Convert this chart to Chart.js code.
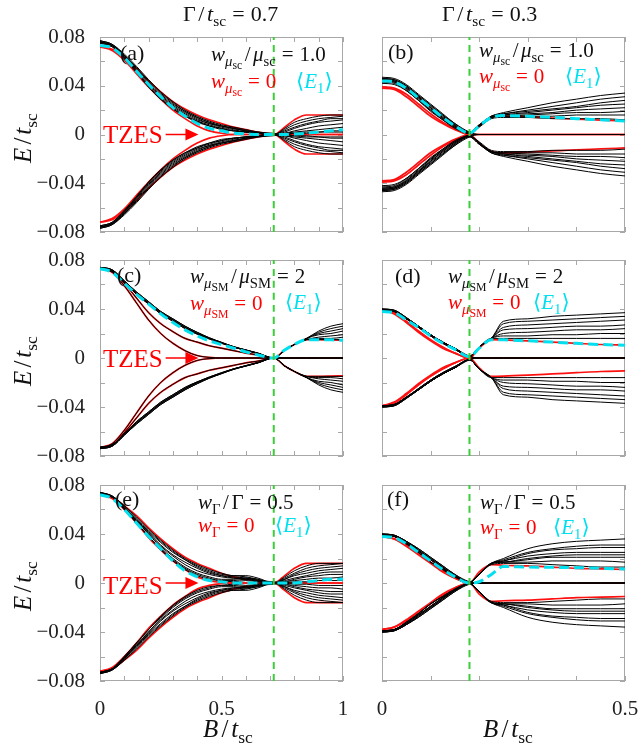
<!DOCTYPE html>
<html>
<head>
<meta charset="utf-8">
<script src="https://cdn.jsdelivr.net/npm/chart.js@4.4.1/dist/chart.umd.min.js"></script>
<style>
body { margin: 0; background: #fff; width: 639px; height: 743px; overflow: hidden; position: relative; font-family: 'Liberation Serif', 'Times New Roman', 'DejaVu Serif', serif; }
canvas { position: absolute; }
.t { position: absolute; white-space: nowrap; transform: translateY(-50%); font-size: 21px; line-height: 1; color: #111; }
.c { transform: translate(-50%, -50%); }
.rot { transform: translate(-50%, -50%) rotate(-90deg); }
sub { font-size: 0.7em; vertical-align: -0.35em; line-height: 0; }
sub sub { font-size: 0.8em; vertical-align: -0.3em; }
.eq { margin: 0 0.28em; }
.sl { margin: 0 0.12em; }
.red { color: #f00; }
.cy { color: #00e0ee; }
</style>
</head>
<body>
<script>
// B grid of each column
const xsLeft = [0, .05, .1, .15, .2, .25, .3, .35, .4, .45, .5, .55, .6, .65, .715, .76, .8, .85, .9, .95, 1];
const xsRight = [0, .025, .05, .075, .1, .125, .15, .18, .2, .225, .25, .3, .35, .4, .45, .5];

// critical field (green dashed)
const critLeft = 0.715;
const critRight = 0.18;

// (a) w_musc / musc = 1.0, Gamma = 0.7  (positive branch, mirrored below)
const blackA = [
  [.077, .074, .066, .056, .045, .035, .027, .020, .015, .011, .008, .006, .004, .002, 0, .005, .010, .013, .015, .016, .016],
  [.076, .073, .065, .054, .043, .033, .025, .019, .014, .010, .007, .005, .003, .0015, 0, .004, .008, .011, .013, .014, .015],
  [.076, .073, .064, .053, .042, .032, .024, .018, .013, .009, .007, .005, .003, .001, 0, .003, .006, .009, .011, .013, .013],
  [.075, .072, .063, .052, .041, .031, .023, .017, .012, .009, .006, .004, .002, .001, 0, .002, .005, .008, .010, .011, .012],
  [.076, .073, .064, .052, .040, .030, .022, .016, .011, .008, .005, .003, .002, .001, 0, .001, .003, .005, .007, .008, .009],
  [.075, .072, .062, .051, .039, .029, .021, .015, .010, .007, .004, .003, .002, .001, 0, .001, .002, .003, .004, .005, .006],
  [.076, .073, .063, .051, .039, .029, .021, .015, .011, .007, .005, .003, .002, .001, .0005, .0005, .001, .002, .002, .003, .003],
  [.077, .074, .065, .055, .044, .034, .026, .019, .014, .010, .007, .005, .003, .002, .001, 0, .001, .001, .002, .002, .002]
];
const redA = [
  [.072, .070, .063, .054, .044, .035, .027, .021, .016, .012, .009, .006, .004, .002, 0, .006, .012, .016, .016, .016, .016],
  [.072, .069, .061, .050, .039, .029, .020, .013, .007, .003, .001, 0, 0, 0, 0, 0, 0, 0, 0, 0, 0]
];
const cyanA = [.073, .071, .063, .052, .041, .031, .022, .015, .009, .005, .003, .001, .0005, 0, 0, 0, .0005, .001, .002, .003, .004];

// (c) w_muSM / muSM = 2, Gamma = 0.7
const blackC = [
  [.074, .072, .063, .054, .046, .038, .032, .026, .021, .0165, .0128, .0093, .0066, .004, 0, .0065, .011, .016, .022, .026, .028],
  [.073, .071, .062, .053, .045, .037, .031, .025, .020, .016, .0124, .009, .0064, .0038, 0, .0065, .011, .016, .021, .024, .026],
  [.073, .071, .062, .052, .044, .036, .030, .024, .0195, .0155, .012, .0088, .0062, .0036, 0, .0065, .011, .016, .020, .022, .024],
  [.074, .072, .063, .054, .046, .038, .032, .026, .021, .0165, .0128, .0093, .0066, .004, 0, .0065, .011, .016, .019, .020, .022],
  [.073, .071, .062, .053, .045, .037, .031, .025, .020, .016, .0124, .009, .0064, .0038, 0, .0065, .011, .015, .017, .018, .019],
  [.073, .071, .062, .052, .044, .036, .030, .024, .0195, .0155, .012, .0088, .0062, .0036, 0, .0065, .011, .015, .016, .016, .017],
  [.074, .072, .063, .053, .045, .037, .031, .025, .020, .016, .0125, .009, .0065, .0039, 0, .0065, .011, .015, .015, .015, .015],
  [.073, .071, .061, .049, .037, .028, .0215, .016, .013, .010, .008, .006, .004, .0025, 0, 0, 0, 0, 0, 0, 0],
  [.073, .070, .059, .045, .031, .020, .012, .006, .002, .0005, 0, 0, 0, 0, 0, 0, 0, 0, 0, 0, 0]
];
const redC = [
  [.073, .071, .061, .049, .037, .028, .0215, .016, .013, .010, .008, .006, .004, .0025, 0, .0065, .011, .015, .015, .0148, .0145],
  [.073, .070, .059, .045, .031, .020, .012, .006, .002, .0005, 0, 0, 0, 0, 0, 0, 0, 0, 0, 0, 0]
];
const cyanC = [.073, .070, .061, .052, .044, .036, .029, .023, .018, .014, .011, .008, .005, .0025, 0, .0065, .011, .015, .015, .0148, .0145];

// (e) w_Gamma / Gamma = 0.5, Gamma = 0.7
const blackE = [
  [.074, .071, .063, .054, .044, .035, .027, .020, .015, .011, .008, .006, .006, .004, 0, .005, .010, .014, .016, .016, .016],
  [.073, .070, .062, .052, .042, .033, .025, .019, .014, .010, .007, .006, .005, .003, 0, .004, .008, .012, .014, .015, .016],
  [.073, .070, .061, .051, .041, .031, .023, .017, .012, .008, .006, .005, .004, .002, 0, .003, .007, .010, .012, .013, .014],
  [.073, .070, .061, .050, .040, .030, .022, .015, .010, .007, .005, .004, .004, .003, 0, .003, .006, .008, .010, .011, .012],
  [.074, .071, .062, .051, .040, .029, .020, .013, .008, .005, .003, .003, .004, .002, 0, .002, .004, .006, .008, .009, .009],
  [.073, .070, .060, .049, .038, .028, .019, .012, .007, .004, .002, .002, .003, .001, 0, .001, .003, .005, .006, .007, .007],
  [.073, .070, .060, .049, .038, .027, .018, .011, .006, .003, .002, .001, .002, .001, 0, .001, .002, .003, .004, .004, .005],
  [.074, .071, .063, .053, .043, .034, .026, .019, .013, .009, .006, .004, .003, .002, .001, 0, .001, .001, .002, .002, .002]
];
const redE = [
  [.072, .070, .063, .055, .045, .036, .028, .021, .016, .012, .008, .005, .003, .002, 0, .006, .012, .016, .016, .016, .016],
  [.072, .069, .060, .049, .037, .027, .018, .011, .005, .002, .0005, 0, 0, 0, 0, 0, 0, 0, 0, 0, 0]
];
const cyanE = [.072, .069, .060, .049, .038, .028, .018, .010, .005, .002, .001, 0, 0, 0, 0, 0, 0, .001, .002, .003, .003];

// (b) w_musc / musc = 1.0, Gamma = 0.3
const blackB = [
  [.047, .046, .041, .033, .025, .017, .009, .002, .008, .015, .018, .022, .026, .029, .032, .034],
  [.046, .045, .040, .032, .024, .016, .008, .002, .008, .015, .017, .020, .023, .026, .029, .031],
  [.045, .044, .039, .031, .023, .015, .008, .001, .007, .015, .017, .019, .021, .023, .026, .028],
  [.045, .044, .038, .030, .022, .014, .007, .001, .007, .014, .016, .018, .020, .022, .024, .025],
  [.044, .043, .038, .030, .021, .013, .006, .001, .007, .014, .016, .017, .018, .020, .021, .022],
  [.044, .043, .037, .029, .020, .012, .006, .001, .007, .014, .015, .016, .017, .018, .018, .019],
  [.043, .042, .036, .028, .019, .012, .005, .001, .007, .014, .015, .015, .015, .016, .016, .016],
  [.042, .041, .036, .028, .020, .013, .006, .001, .006, .013, .014, .014, .013, .013, .013, .012],
  [.045, .044, .039, .031, .022, .014, .007, .001, 0, 0, 0, 0, 0, 0, 0, 0],
  [.046, .045, .040, .032, .024, .016, .009, .002, 0, 0, 0, 0, 0, 0, 0, 0]
];
const redB = [
  [.039, .038, .033, .025, .017, .010, .005, 0, .007, .014, .0152, .0145, .0135, .0125, .0118, .011],
  [.038, .037, .031, .023, .015, .009, .004, 0, 0, 0, 0, 0, 0, 0, 0, 0]
];
const cyanB = [.044, .043, .038, .030, .022, .014, .007, .001, .007, .014, .0155, .015, .014, .013, .012, .011];

// (d) w_muSM / muSM = 2, Gamma = 0.3
const blackD = [
  [.040, .039, .033, .026, .019, .013, .008, .0015, .009, .016, .030, .032, .034, .035, .036, .037],
  [.039, .038, .032, .026, .019, .013, .008, .0015, .009, .016, .028, .030, .031, .032, .033, .034],
  [.039, .038, .032, .025, .018, .012, .007, .0012, .009, .016, .025, .027, .028, .029, .030, .031],
  [.040, .039, .033, .026, .019, .013, .008, .0015, .009, .016, .023, .024, .025, .026, .026, .027],
  [.039, .038, .032, .026, .019, .013, .008, .0015, .009, .016, .020, .021, .022, .023, .023, .024],
  [.039, .038, .032, .025, .018, .012, .007, .0012, .009, .016, .018, .018, .019, .019, .020, .020],
  [.040, .039, .033, .026, .019, .013, .008, .0015, .009, .016, .016, .016, .016, .016, .016, .016],
  [.039, .038, .032, .026, .019, .013, .008, .0015, 0, 0, 0, 0, 0, 0, 0, 0],
  [.039, .038, .032, .025, .018, .012, .007, .0012, 0, 0, 0, 0, 0, 0, 0, 0]
];
const redD = [
  [.039, .037, .030, .022, .015, .009, .004, 0, .008, .015, .0148, .014, .013, .012, .011, .0105],
  [.039, .036, .029, .021, .014, .008, .004, 0, 0, 0, 0, 0, 0, 0, 0, 0]
];
const cyanD = [.038, .037, .031, .025, .018, .012, .007, .001, .008, .015, .0148, .014, .013, .012, .011, .0105];

// (f) w_Gamma / Gamma = 0.5, Gamma = 0.3
const blackF = [
  [.040, .039, .034, .027, .020, .013, .006, .0005, .007, .016, .020, .028, .032, .034, .035, .036],
  [.039, .038, .033, .026, .019, .012, .006, .0005, .007, .016, .019, .025, .028, .030, .031, .031],
  [.039, .038, .033, .026, .019, .012, .006, .0005, .007, .016, .018, .024, .027, .028, .029, .029],
  [.040, .039, .034, .028, .021, .014, .007, .001, .007, .016, .018, .022, .024, .025, .025, .025],
  [.039, .038, .032, .025, .017, .011, .005, .0005, .007, .016, .017, .020, .022, .023, .023, .023],
  [.039, .038, .032, .025, .017, .011, .005, .0005, .007, .016, .017, .019, .021, .021, .021, .021],
  [.040, .039, .034, .027, .020, .013, .006, .0005, .007, .016, .017, .017, .018, .018, .018, .017],
  [.039, .038, .033, .026, .019, .012, .006, .0005, .007, .015, .016, .016, .015, .014, .013, .013],
  [.040, .039, .034, .028, .021, .014, .007, .001, 0, 0, 0, 0, 0, 0, 0, 0],
  [.039, .038, .032, .025, .017, .011, .005, .0005, 0, 0, 0, 0, 0, 0, 0, 0]
];
const redF = [
  [.038, .036, .031, .024, .017, .010, .004, 0, .009, .015, .0145, .014, .013, .012, .0115, .011],
  [.038, .036, .030, .023, .016, .009, .004, 0, 0, 0, 0, 0, 0, 0, 0, 0]
];
const cyanF = [.038, .037, .032, .025, .018, .011, .005, 0, .001, .007, .0135, .013, .0128, .0125, .012, .0115];

const FONT = "'Liberation Serif', 'Times New Roman', 'DejaVu Serif', serif";

// gray box + inward ticks, and the TZES arrow
const framePlugin = {
  id: 'frame',
  beforeDatasetsDraw(chart) {
    const { ctx, chartArea: a, scales: { x, y } } = chart;
    ctx.save();
    ctx.strokeStyle = '#a8a8a8';
    ctx.lineWidth = 1;
    ctx.strokeRect(a.left + 0.5, a.top + 0.5, a.width - 1, a.height - 1);
    ctx.beginPath();
    x.ticks.forEach(t => {
      const px = Math.round(x.getPixelForValue(t.value)) + 0.5;
      ctx.moveTo(px, a.bottom); ctx.lineTo(px, a.bottom - 5);
      ctx.moveTo(px, a.top); ctx.lineTo(px, a.top + 5);
    });
    y.ticks.forEach(t => {
      const py = Math.round(y.getPixelForValue(t.value)) + 0.5;
      ctx.moveTo(a.left, py); ctx.lineTo(a.left + 5, py);
      ctx.moveTo(a.right, py); ctx.lineTo(a.right - 5, py);
    });
    ctx.stroke();
    ctx.restore();
  },
  afterDatasetsDraw(chart) {
    const opts = chart.options.plugins.frame;
    if (!opts || !opts.tzes) return;
    const { ctx, scales: { x, y } } = chart;
    const tip = x.getPixelForValue(0.405), py = y.getPixelForValue(0);
    const start = x.getPixelForValue(0.27);
    ctx.save();
    ctx.strokeStyle = '#f00';
    ctx.fillStyle = '#f00';
    ctx.lineWidth = 1.5;
    ctx.beginPath();
    ctx.moveTo(start, py); ctx.lineTo(tip - 10, py);
    ctx.stroke();
    ctx.beginPath();
    ctx.moveTo(tip, py); ctx.lineTo(tip - 13, py - 6); ctx.lineTo(tip - 13, py + 6);
    ctx.closePath();
    ctx.fill();
    ctx.restore();
  }
};

function yLabel(v) {
  const k = Math.round(v * 100);
  if (k % 4 !== 0) return '';
  if (k === 0) return '0';
  return (k < 0 ? '\u2212' : '') + (Math.abs(k) / 100).toFixed(2);
}

function makePanel(p) {
  const [L, T, R, B] = p.plot;
  const yW = p.yLabels ? L : 10;
  const xH = p.xLabels ? 45 : 12;
  const padT = 12, padR = 16;
  const cv = document.createElement('canvas');
  cv.width = R - L + yW + padR;
  cv.height = B - T + padT + xH;
  cv.style.left = (L - yW) + 'px';
  cv.style.top = (T - padT) + 'px';
  document.body.appendChild(cv);

  const pts = ys => p.xs.map((x, i) => ({ x: x, y: ys[i] }));
  const line = { pointRadius: 0, cubicInterpolationMode: 'monotone', fill: false };
  const datasets = [];
  datasets.push({ ...line, data: [{ x: p.crit, y: -0.08 }, { x: p.crit, y: 0.08 }], borderColor: '#3ccc3c', borderWidth: 2, borderDash: [7, 5], order: 0 });
  datasets.push({ ...line, data: pts(p.cyan), borderColor: '#00e0ee', borderWidth: 3, borderDash: [10, 5], order: 1 });
  p.black.forEach(c => {
    datasets.push({ ...line, data: pts(c), borderColor: '#000', borderWidth: 1, order: 2 });
    datasets.push({ ...line, data: pts(c.map(v => -v)), borderColor: '#000', borderWidth: 1, order: 2 });
  });
  p.red.forEach(c => {
    datasets.push({ ...line, data: pts(c), borderColor: '#ff1010', borderWidth: 1.7, order: 3 });
    datasets.push({ ...line, data: pts(c.map(v => -v)), borderColor: '#ff1010', borderWidth: 1.7, order: 3 });
  });

  new Chart(cv, {
    type: 'line',
    data: { datasets: datasets },
    plugins: [framePlugin],
    options: {
      animation: false,
      responsive: false,
      events: [],
      layout: { padding: { top: padT, right: padR, left: 0, bottom: 0 } },
      plugins: { legend: { display: false }, tooltip: { enabled: false }, frame: { tzes: p.tzes } },
      scales: {
        x: {
          type: 'linear', min: 0, max: p.xmax,
          grid: { display: false }, border: { display: false },
          ticks: {
            display: p.xLabels, stepSize: 0.1, autoSkip: false, maxRotation: 0, padding: 8,
            color: '#222', font: { family: FONT, size: 21 },
            callback: v => (Math.abs(v) < 1e-9 ? '0' : Math.abs(v - 0.5) < 1e-9 ? '0.5' : Math.abs(v - 1) < 1e-9 ? '1' : '')
          },
          afterFit: s => { s.height = xH; s.paddingLeft = 0; s.paddingRight = 0; }
        },
        y: {
          type: 'linear', min: -0.08, max: 0.08,
          grid: { display: false }, border: { display: false },
          ticks: {
            display: p.yLabels, stepSize: 0.02, autoSkip: false, padding: 7,
            color: '#222', font: { family: FONT, size: 21 },
            callback: yLabel
          },
          afterFit: s => { s.width = yW; s.paddingTop = 0; s.paddingBottom = 0; }
        }
      }
    }
  });
}

const panels = [
  { plot: [100, 37, 343, 232], xs: xsLeft, xmax: 1, black: blackA, red: redA, cyan: cyanA, crit: critLeft, yLabels: true, xLabels: false, tzes: true },
  { plot: [382, 37, 625, 232], xs: xsRight, xmax: 0.5, black: blackB, red: redB, cyan: cyanB, crit: critRight, yLabels: false, xLabels: false },
  { plot: [100, 260, 343, 456], xs: xsLeft, xmax: 1, black: blackC, red: redC, cyan: cyanC, crit: critLeft, yLabels: true, xLabels: false, tzes: true },
  { plot: [382, 260, 625, 456], xs: xsRight, xmax: 0.5, black: blackD, red: redD, cyan: cyanD, crit: critRight, yLabels: false, xLabels: false },
  { plot: [100, 485, 343, 681], xs: xsLeft, xmax: 1, black: blackE, red: redE, cyan: cyanE, crit: critLeft, yLabels: true, xLabels: true, tzes: true },
  { plot: [382, 485, 625, 681], xs: xsRight, xmax: 0.5, black: blackF, red: redF, cyan: cyanF, crit: critRight, yLabels: false, xLabels: true }
];
panels.forEach(makePanel);

// text overlays
function text(html, x, y, cls, size) {
  const d = document.createElement('div');
  d.className = 't ' + (cls || '');
  d.innerHTML = html;
  d.style.left = x + 'px';
  d.style.top = y + 'px';
  if (size) d.style.fontSize = size + 'px';
  document.body.appendChild(d);
}
const EQ = '<span class="eq">=</span>';
const SL = '<span class="sl">/</span>';
const tsc = '<i>t</i><sub>sc</sub>';
text('\u0393' + SL + tsc + EQ + '0.7', 183, 14, '', 22);
text('\u0393' + SL + tsc + EQ + '0.3', 442, 14, '', 22);
[138, 361, 586].forEach(y => text('<i>E</i>' + SL + tsc, 22, y, 'rot', 25));
text('<i>B</i>' + SL + tsc, 228, 728, 'c', 25);
text('<i>B</i>' + SL + tsc, 508, 728, 'c', 25);

const E1 = '\u27E8<i>E</i><sub>1</sub>\u27E9';
const wsc = '<i>w</i><sub><i>\u03BC</i><sub>sc</sub></sub>';
const wsm = '<i>w</i><sub><i>\u03BC</i><sub>SM</sub></sub>';
const wg = '<i>w</i><sub>\u0393</sub>';

text('(a)', 120, 53, '', 22); text(wsc + SL + '<i>\u03BC</i><sub>sc</sub>' + EQ + '1.0', 211, 55); text(wsc + EQ + '0', 211, 82, 'red'); text(E1, 296, 81, 'cy');
text('(b)', 388, 52, '', 22); text(wsc + SL + '<i>\u03BC</i><sub>sc</sub>' + EQ + '1.0', 479, 51); text(wsc + EQ + '0', 479, 77, 'red'); text(E1, 565, 76, 'cy');
text('(c)', 117, 275, '', 22); text(wsm + SL + '<i>\u03BC</i><sub>SM</sub>' + EQ + '2', 190, 277); text(wsm + EQ + '0', 190, 304, 'red'); text(E1, 285, 302, 'cy');
text('(d)', 395, 276, '', 22); text(wsm + SL + '<i>\u03BC</i><sub>SM</sub>' + EQ + '2', 448, 277); text(wsm + EQ + '0', 448, 303, 'red'); text(E1, 533, 302, 'cy');
text('(e)', 115, 499, '', 22); text(wg + SL + '\u0393' + EQ + '0.5', 198, 502); text(wg + EQ + '0', 198, 525, 'red'); text(E1, 275, 525, 'cy');
text('(f)', 387, 499, '', 22); text(wg + SL + '\u0393' + EQ + '0.5', 480, 502); text(wg + EQ + '0', 480, 527, 'red'); text(E1, 553, 527, 'cy');

[134, 358, 585].forEach(y => text('TZES', 103, y, 'red', 25));
</script>
</body>
</html>
